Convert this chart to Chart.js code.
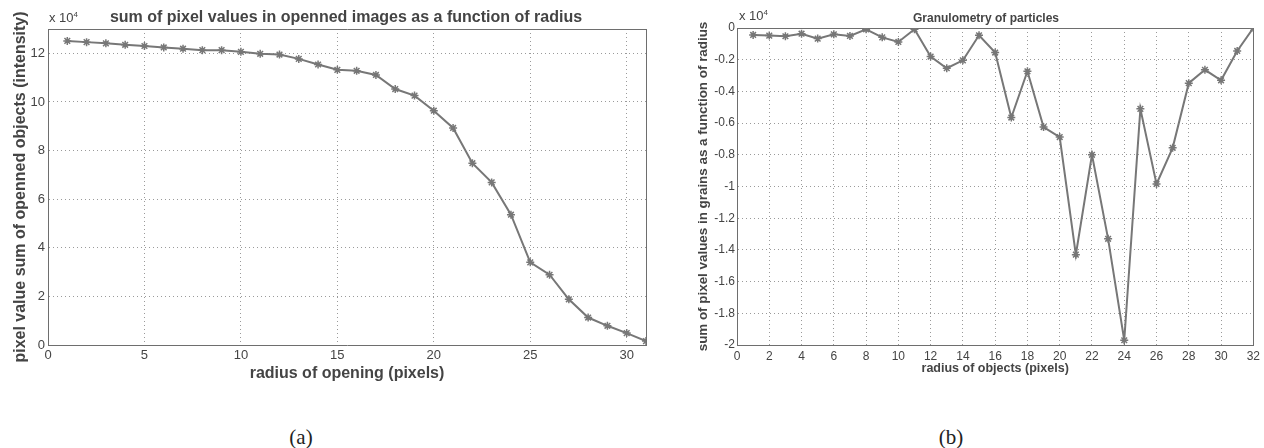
<!DOCTYPE html>
<html>
<head>
<meta charset="utf-8">
<script src="https://cdn.jsdelivr.net/npm/chart.js@4.4.1/dist/chart.umd.min.js"></script>
<style>
  body { margin: 0; background: #fff; width: 1264px; height: 448px; overflow: hidden; position: relative; font-family: "Liberation Sans", Arial, sans-serif; }
  .box { position: absolute; top: 0; height: 390px; }
  .lbl { position: absolute; transform: translate(-50%, -50%); white-space: nowrap; color: #444; }
  .exp { position: absolute; font-size: 13px; color: #444; white-space: nowrap; }
  .exp sup { font-size: 8px; }
  .cap { position: absolute; transform: translate(-50%, -50%); font-family: "Liberation Serif", "Times New Roman", serif; font-size: 21px; color: #222; }
</style>
</head>
<body>
<div class="box" style="left:0;width:660px"><canvas id="chartA"></canvas></div>
<div class="box" style="left:640px;width:624px"><canvas id="chartB"></canvas></div>

<div class="lbl" style="left:346px;top:17px;font-weight:bold;font-size:16px">sum of pixel values in openned images as a function of radius</div>
<div class="lbl" style="left:986px;top:18px;font-weight:bold;font-size:12px">Granulometry of particles</div>
<div class="exp" style="left:49px;top:10px">x 10<sup>4</sup></div>
<div class="exp" style="left:739px;top:8px">x 10<sup>4</sup></div>
<div class="cap" style="left:301px;top:437px">(a)</div>
<div class="cap" style="left:951px;top:437px">(b)</div>

<script>
// chart (a): sum of pixel values in opened images (x 10^4)
const radiusA = [1,2,3,4,5,6,7,8,9,10,11,12,13,14,15,16,17,18,19,20,21,22,23,24,25,26,27,28,29,30,31];
const sumA = [12.51,12.46,12.41,12.35,12.30,12.24,12.19,12.13,12.13,12.06,11.98,11.95,11.77,11.54,11.32,11.28,11.11,10.53,10.26,9.64,8.93,7.48,6.69,5.36,3.40,2.89,1.88,1.13,0.79,0.49,0.16];

// chart (b): granulometry (x 10^4)
const radiusB = [1,2,3,4,5,6,7,8,9,10,11,12,13,14,15,16,17,18,19,20,21,22,23,24,25,26,27,28,29,30,31,32];
const granB = [-0.044,-0.048,-0.052,-0.036,-0.067,-0.040,-0.050,-0.008,-0.059,-0.088,-0.008,-0.180,-0.254,-0.204,-0.046,-0.155,-0.565,-0.273,-0.625,-0.688,-1.430,-0.800,-1.330,-1.970,-0.510,-0.984,-0.756,-0.348,-0.264,-0.330,-0.145,0.0];

const lineColor = "#777777";
const textColor = "#444444";
const gridColor = "#9a9a9a";
const frameColor = "#6e6e6e";

function toPoints(xs, ys) {
  return xs.map((x, i) => ({ x: x, y: ys[i] }));
}

function lineDataset(xs, ys) {
  return {
    data: toPoints(xs, ys),
    borderColor: lineColor,
    backgroundColor: lineColor,
    borderWidth: 2,
    pointStyle: "star",
    pointRadius: 4,
    pointBorderWidth: 1.5,
    pointBorderColor: lineColor,
    tension: 0,
    fill: false,
  };
}

// extra axes only to draw the top / right frame lines
function frameAxis(pos, min, max) {
  return {
    type: "linear",
    position: pos,
    min: min,
    max: max,
    grid: { display: false },
    ticks: { display: false },
    border: { color: frameColor, width: 1 },
    afterFit: (s) => { if (pos === "top") s.height = 0; else s.width = 0; },
  };
}

// Chart (a)
new Chart(document.getElementById("chartA"), {
  type: "line",
  data: { datasets: [lineDataset(radiusA, sumA)] },
  options: {
    responsive: true,
    maintainAspectRatio: false,
    animation: false,
    layout: { padding: { left: 4, right: 14, top: 29, bottom: 5 } },
    plugins: { legend: { display: false }, tooltip: { enabled: false } },
    scales: {
      x: {
        type: "linear",
        min: 0,
        max: 31,
        ticks: { stepSize: 5, includeBounds: false, color: textColor, font: { size: 13 }, padding: 3, maxRotation: 0 },
        grid: { color: gridColor, drawTicks: false },
        border: { color: frameColor, dash: [1, 3] },
        title: { display: true, text: "radius of opening (pixels)", color: textColor, font: { size: 16, weight: "bold" }, padding: { top: 0, bottom: 2 } },
        afterFit: (s) => { s.height = 40; },
      },
      y: {
        min: 0,
        max: 13,
        ticks: { stepSize: 2, includeBounds: false, color: textColor, font: { size: 13 }, padding: 3 },
        grid: { color: gridColor, drawTicks: false },
        border: { color: frameColor, dash: [1, 3] },
        title: { display: true, text: "pixel value sum of openned objects (intensity)", color: textColor, font: { size: 16, weight: "bold" }, padding: { top: 7, bottom: 0 } },
        afterFit: (s) => { s.width = 44; },
      },
      xTop: frameAxis("top", 0, 31),
      yRight: frameAxis("right", 0, 13),
    },
  },
});

// Chart (b)
new Chart(document.getElementById("chartB"), {
  type: "line",
  data: { datasets: [lineDataset(radiusB, granB)] },
  options: {
    responsive: true,
    maintainAspectRatio: false,
    animation: false,
    layout: { padding: { left: 4, right: 10, top: 28, bottom: 5 } },
    plugins: { legend: { display: false }, tooltip: { enabled: false } },
    scales: {
      x: {
        type: "linear",
        min: 0,
        max: 32,
        ticks: { stepSize: 2, color: textColor, font: { size: 12 }, padding: 4, maxRotation: 0, autoSkip: false },
        grid: { color: gridColor, drawTicks: false },
        border: { color: frameColor, dash: [1, 3] },
        title: { display: true, text: "radius of objects (pixels)", color: textColor, font: { size: 12.5, weight: "bold" }, padding: { top: 0, bottom: 9 } },
        afterFit: (s) => { s.height = 40; },
      },
      y: {
        min: -2,
        max: 0,
        ticks: {
          stepSize: 0.2,
          color: textColor,
          font: { size: 12 },
          padding: 2,
          callback: (v) => String(Math.round(v * 10) / 10),
        },
        grid: { color: gridColor, drawTicks: false },
        border: { color: frameColor, dash: [1, 3] },
        title: { display: true, text: "sum of pixel values in grains as a function of radius", color: textColor, font: { size: 13.4, weight: "bold" }, padding: { top: 51, bottom: 0 } },
        afterFit: (s) => { s.width = 93; },
      },
      xTop: frameAxis("top", 0, 32),
      yRight: frameAxis("right", -2, 0),
    },
  },
});
</script>
</body>
</html>
